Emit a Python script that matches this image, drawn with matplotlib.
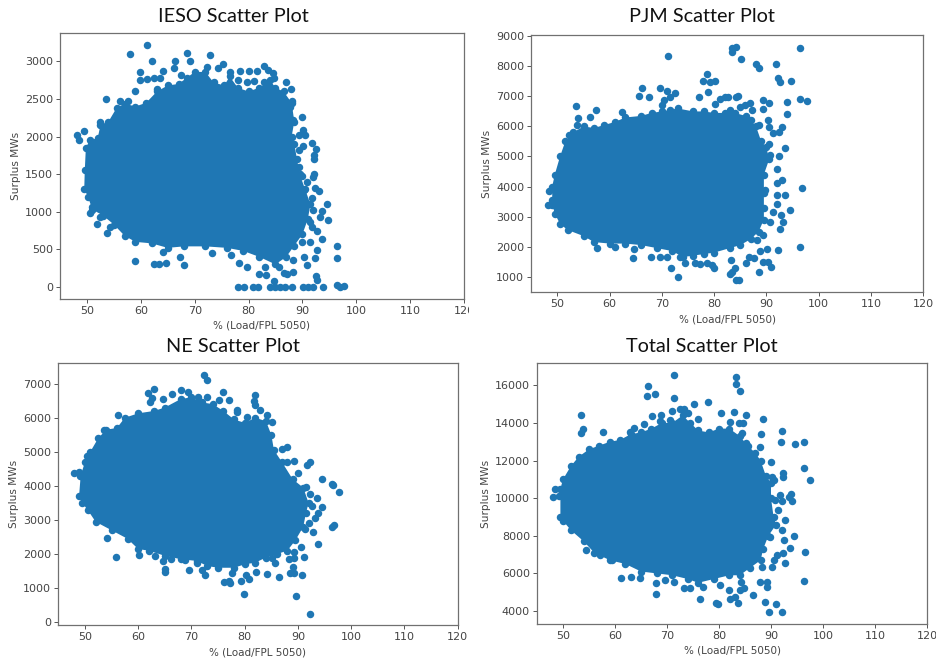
import matplotlib
matplotlib.use('Agg')
import matplotlib.pyplot as plt
from matplotlib.patches import Rectangle

BLUE = '#1f77b4'
W, H = 937, 663

# The dense middle of each cloud cannot be read point by point, so it is
# kept as a boundary read off the picture, and the loose points on top of it.
ieso_edge = [(49.5,1300),(49.6,1550),(49.8,1850),(50.5,1950),(52,1980),(52.5,2150),(54,2200),(55.5,2380),(57,2440),(59,2400),(61,2450),(63,2600),(65,2680),(67,2700),(68.5,2780),(70,2860),(72,2860),(73.5,2720),(75.5,2680),(76.5,2800),(78,2650),(80,2600),(82,2650),(84,2750),(85,2650),(86.5,2600),(88,2450),(88.5,2200),(88,2000),(88.5,1900),(89,1700),(89.5,1500),(90.5,1300),(91.5,1100),(91,900),(90,700),(88.5,550),(87,400),(85,300),(82,400),(79,480),(76,520),(72,540),(68,540),(65,520),(62,580),(59,600),(57,680),(55,830),(53,950),(51,1030),(50.2,1200)]
ieso_points = [(61.2,3220),(58,3100),(68.6,3110),(72.8,3090),(62,3000),(66.3,3010),(69.2,3000),(75.2,2970),(74.4,2910),(72.3,2925),(59.9,2860),(64.2,2870),(66.1,2915),(67.4,2825),(82.8,2935),(83.7,2880),(84.6,2845),(84.8,2775),(80,2870),(78.5,2870),(76.6,2855),(81.5,2870),(59.9,2750),(61.1,2765),(62.4,2780),(63.6,2780),(78.1,2755),(79.7,2720),(81,2735),(82.8,2720),(87,2725),(87.9,2630),(63,2630),(59,2600),(53.5,2500),(56.2,2470),(57.6,2470),(88,2480),(87.7,2400),(90,2265),(52.5,2200),(53.7,2160),(88.3,2220),(90.2,2090),(89.3,2025),(90.5,2025),(87.1,2000),(49.4,2070),(48.1,2025),(48.5,1960),(91.8,1910),(92.5,1835),(90.2,1870),(89.3,1825),(92.2,1760),(92.2,1700),(89.3,1600),(90,1470),(92.2,1505),(91.9,1460),(90.8,1400),(92.4,1315),(93,1280),(90.3,1290),(91.7,1180),(94.5,1105),(93.7,1010),(92,1025),(94.7,890),(93.2,925),(91.4,870),(91.7,800),(92.7,745),(93.7,635),(91.4,600),(90,595),(92.8,490),(92.4,380),(90.3,405),(88.3,360),(90.8,295),(96.4,550),(96.4,380),(51.9,835),(53.8,715),(54.3,795),(50.6,980),(50.9,1070),(52.5,935),(59,340),(62.4,300),(63.3,300),(64.7,315),(68.1,290),(64.2,460),(67.3,405),(73.3,450),(76.7,425),(78.3,315),(79.7,260),(83.1,270),(82,175),(83.2,160),(85.6,270),(86.5,180),(87.2,175),(88.3,195),(92.5,145),(92.8,95),(84.7,85),(78.1,0),(79.1,0),(80.9,0),(81.7,0),(84,0),(84.9,0),(85.9,0),(86.8,0),(88,0),(90.2,0),(91.1,0),(91.9,0),(93.9,0),(96.4,25),(96.9,5),(97.8,10)]

pjm_edge = [(49,3400),(49,4000),(49.5,4400),(50.5,5000),(51.5,5500),(53,5800),(55,6000),(57,5950),(59,6050),(61,6150),(63,6300),(66,6350),(68,6450),(70,6500),(71.5,6550),(73,6600),(76,6500),(78,6500),(80,6450),(82,6450),(84,6450),(86,6350),(87,6200),(88,6000),(89,5500),(90,5300),(90.5,4900),(89.5,4400),(89.5,3800),(89.5,3300),(89.5,2900),(88.5,2500),(87,2250),(85,2050),(83,1950),(80,1800),(78,1750),(76,1700),(74,1650),(72,1850),(69,1950),(66,2050),(63,2100),(60,2100),(57,2150),(55,2350),(52,2550),(50.5,2750),(49.5,3100)]
pjm_points = [(48.4,3840),(48.2,3385),(48.9,3550),(71.2,8330),(83.4,8485),(83.4,8600),(84.1,8660),(85.2,8250),(88,8065),(88.5,7950),(91.8,8085),(96.4,8600),(78.7,7740),(77.8,7520),(79.2,7465),(80.1,7520),(92.2,7600),(92.6,7465),(94.6,7500),(66.2,7280),(69.7,7280),(65.6,7010),(67.5,6965),(78.9,7155),(77,6990),(71,7190),(72.4,7130),(71.6,6990),(70.3,6880),(70,6710),(81.1,6930),(82.1,6990),(82.7,6965),(84.1,6990),(84.6,7010),(96.4,6910),(97.7,6845),(93.9,6810),(89.3,6880),(90.4,6770),(89.3,6580),(94,6400),(53.5,6680),(57.4,6535),(80.2,6745),(83,6545),(85,6655),(85.9,6710),(86.9,6770),(87.2,6545),(54,6270),(56.3,6300),(62.4,6490),(90.3,6210),(90.4,5990),(92.9,5990),(92.3,5825),(91.3,5770),(88.5,6045),(52.2,5715),(53.8,6045),(93.6,5280),(90.5,5415),(92.3,5015),(90.7,5050),(92.1,4570),(92.9,4205),(92,4105),(96.8,3960),(93.6,3715),(92,3715),(89.7,3880),(92,3405),(94.5,3220),(92.8,3060),(91.2,3160),(93.1,2810),(90.7,2830),(92.5,2575),(89.4,2385),(88.2,2220),(96.4,1990),(92.2,1890),(90.1,1910),(88.8,1865),(89.4,1500),(90.3,1500),(90.8,1330),(88.5,1165),(87.7,1610),(86.6,1640),(86.1,1465),(83.2,1555),(84,1280),(83.4,1165),(83.1,1090),(84.2,890),(84.8,890),(80,1290),(79.6,1390),(78.6,1445),(77.3,1420),(76.4,1445),(74.5,1445),(73.5,1665),(71.8,1290),(73.1,1000),(71,1665),(69.7,1640),(67.9,1640),(64.4,1610),(64.6,1910),(61.1,1975),(57.6,1940)]

ne_edge = [(48.9,3700),(49.2,4300),(50,4700),(51,5000),(52.5,5400),(54,5650),(56,5700),(57.5,6000),(60,6130),(63,6200),(65,6300),(68,6550),(70,6600),(72,6450),(74,6400),(76,6200),(78,5950),(80,5850),(82,6000),(84,5900),(85,5500),(85.5,5050),(87,4700),(89,4200),(91,3950),(92,3500),(91.5,3200),(91,2800),(89.5,2400),(88,2100),(86,2000),(84,1900),(82,1750),(80,1700),(78,1600),(75,1600),(73,1650),(71,1800),(68,1850),(65,1950),(62,2100),(60,2150),(58,2450),(55,2700),(52,2950),(50.5,3300),(49.5,3500)]
ne_points = [(48,4390),(48.8,4420),(49.1,4300),(72.4,7265),(72.9,7105),(63,6840),(61.9,6735),(62.6,6570),(62.3,6470),(64.6,6540),(68.1,6815),(66.4,6685),(69.4,6765),(71.3,6620),(72.9,6620),(75.9,6765),(75.1,6520),(77.1,6520),(82,6665),(81.8,6490),(82,6375),(82.9,6225),(84.1,6080),(85.1,5865),(78.6,6225),(78.5,6170),(80.5,6030),(56.2,6080),(53.5,5640),(50.4,4880),(88,5130),(87,5080),(89.2,4730),(87.9,4710),(90.1,4370),(92.2,4690),(91.7,4615),(94.6,4215),(96.4,4055),(96.5,4025),(97.7,3810),(91.6,3960),(92.3,3765),(93.5,3655),(92.6,3420),(94.5,3390),(93.8,3195),(93.2,3050),(96.8,2855),(96.4,2785),(92,2900),(92.8,2660),(91.3,2730),(93.7,2300),(90.5,2200),(89.2,2070),(91.1,1925),(89.2,1875),(88.4,1850),(89,1615),(89.2,1455),(88.5,1455),(90.8,1380),(86.5,1330),(84.1,1410),(85.7,1730),(85.1,1875),(82.1,1485),(80.9,1270),(80.3,1390),(79.3,1220),(77.3,1145),(76.1,1180),(77,1220),(77.6,1435),(79.8,820),(89.7,760),(92.2,235),(55.8,1925),(54.1,2470),(60.1,1975),(63.2,1945),(64.6,1800),(65,1575),(65,1475),(66.2,1850),(69.6,1535),(71,1730),(72,1535),(72.6,1380),(68.8,1830)]

total_edge = [(49.5,9000),(49.5,10500),(50,11000),(51.5,11700),(53,12200),(55,12600),(57,12800),(59,13000),(61,13100),(63,13400),(65,13500),(67,13700),(69,14000),(71,14000),(73,14400),(74.5,14000),(76,13600),(78,13500),(80,13700),(82,13700),(84,13300),(85.5,12800),(87,12400),(88,12000),(89,11200),(90,10800),(90,10000),(90.5,9000),(91,8600),(89.5,8000),(88.5,7300),(88,6700),(86,6300),(84,5900),(82,5900),(79,5700),(76,5500),(74,5700),(71,5900),(68,6000),(65,6100),(62,6500),(59,6700),(56,7100),(54,7700),(51.5,8300),(50,8800)]
total_points = [(48.1,10080),(48.5,10505),(49.2,10115),(71.3,16550),(83.3,16430),(83.3,16060),(84.1,15720),(66.3,15970),(66.1,15450),(67.6,15560),(71.3,15310),(75.2,15010),(77.8,15135),(53.5,14425),(67.1,14370),(68.8,14410),(70.9,14655),(72.5,14760),(73.2,14725),(74.1,14515),(75.9,14210),(80.4,14550),(82.8,14585),(85.2,14425),(88.4,14230),(92.2,13555),(91.9,12970),(94.6,12880),(96.3,12970),(90,11910),(96.4,11625),(92.4,11320),(92.4,11145),(97.5,10970),(53.8,13660),(53.5,13450),(57.7,13540),(63.6,13715),(65.5,13945),(62.9,13540),(68.7,14125),(70.6,14160),(82.2,14070),(83.8,13980),(84.7,13980),(84.4,13450),(88.1,13430),(87.9,12705),(85.2,12920),(90.2,11145),(90.5,10970),(91.8,10170),(93.9,10205),(93.4,10080),(94,9870),(92.1,9870),(90.8,9905),(91.4,9370),(92.7,8840),(92.1,8310),(94.5,7990),(92.5,7760),(89.8,7950),(93.7,7335),(92.4,7065),(96.6,7120),(91.1,6980),(90.5,6715),(92.7,6535),(90.2,6360),(88.2,6360),(96.3,5595),(89.2,5525),(89.2,5295),(87.8,5560),(88.9,4495),(90.9,4370),(89.7,3965),(92.2,3930),(86.5,4835),(84.9,5205),(84.1,5115),(84.2,5560),(82,5115),(82.2,4655),(83.1,4760),(83.6,4445),(79.9,4370),(79.5,4410),(76.3,4655),(77,5295),(74.5,5205),(73.2,5205),(67.9,5470),(67.9,4885),(61.1,5735),(63,5825),(64.9,5735),(69.7,5650),(54.4,7245),(57.2,6980),(59.4,6715),(71.3,5560),(80.2,5385)]

x_ticks = [50, 60, 70, 80, 90, 100, 110, 120]
ieso_ticks = [0, 500, 1000, 1500, 2000, 2500, 3000]
pjm_ticks = [1000, 2000, 3000, 4000, 5000, 6000, 7000, 8000, 9000]
ne_ticks = [0, 1000, 2000, 3000, 4000, 5000, 6000, 7000]
total_ticks = [4000, 6000, 8000, 10000, 12000, 14000, 16000]


def panel(box, ylim, yticks, edge, points, title, title_xy):
    # box is left, right, top, bottom in image pixels
    left, right, top, bottom = box
    ax = fig.add_axes([left / W, 1 - bottom / H, (right - left) / W, (bottom - top) / H])
    ax.fill([p[0] for p in edge], [p[1] for p in edge], color=BLUE, lw=0)
    all_pts = edge + points
    ax.scatter([p[0] for p in all_pts], [p[1] for p in all_pts], s=29, color=BLUE, linewidths=0)
    ax.set_xlim(45, 120)
    ax.set_ylim(*ylim)
    ax.set_xticks(x_ticks)
    ax.set_yticks(yticks)
    ax.tick_params(labelsize=8, length=2.6, width=0.7, color='#555555', labelcolor='#444444', pad=2.5)
    ax.set_xlabel('% (Load/FPL 5050)', fontsize=7.5, color='#444444', labelpad=3.5)
    ax.set_ylabel('Surplus MWs', fontsize=7.6, color='#444444', labelpad=3)
    for s in ax.spines.values():
        s.set_color('#707070')
        s.set_linewidth(0.9)
    fig.text(title_xy[0] / W, 1 - title_xy[1] / H, title, fontsize=14.3, family='Lato',
             ha='center', va='center', color='#111111')
    return ax


fig = plt.figure(figsize=(W / 100, H / 100), dpi=100)
panel((60, 464, 33, 299), (-160, 3378), ieso_ticks, ieso_edge, ieso_points, 'IESO Scatter Plot', (233, 17))
panel((531.3, 923.3, 34.7, 292.3), (478, 9055), pjm_ticks, pjm_edge, pjm_points, 'PJM Scatter Plot', (702, 17))
panel((58.3, 457.7, 362.7, 625.3), (-88, 7615), ne_ticks, ne_edge, ne_points, 'NE Scatter Plot', (233, 346))
panel((537, 927, 363, 624), (3308, 17190), total_ticks, total_edge, total_points, 'Total Scatter Plot', (702, 346))

# the IESO "120" label is cut off by the neighbouring picture
fig.add_artist(Rectangle((469 / W, 1 - 320 / H), 12 / W, 25 / H, transform=fig.transFigure,
                         facecolor='white', edgecolor='none', zorder=10))

fig.savefig('out.png', dpi=100)
